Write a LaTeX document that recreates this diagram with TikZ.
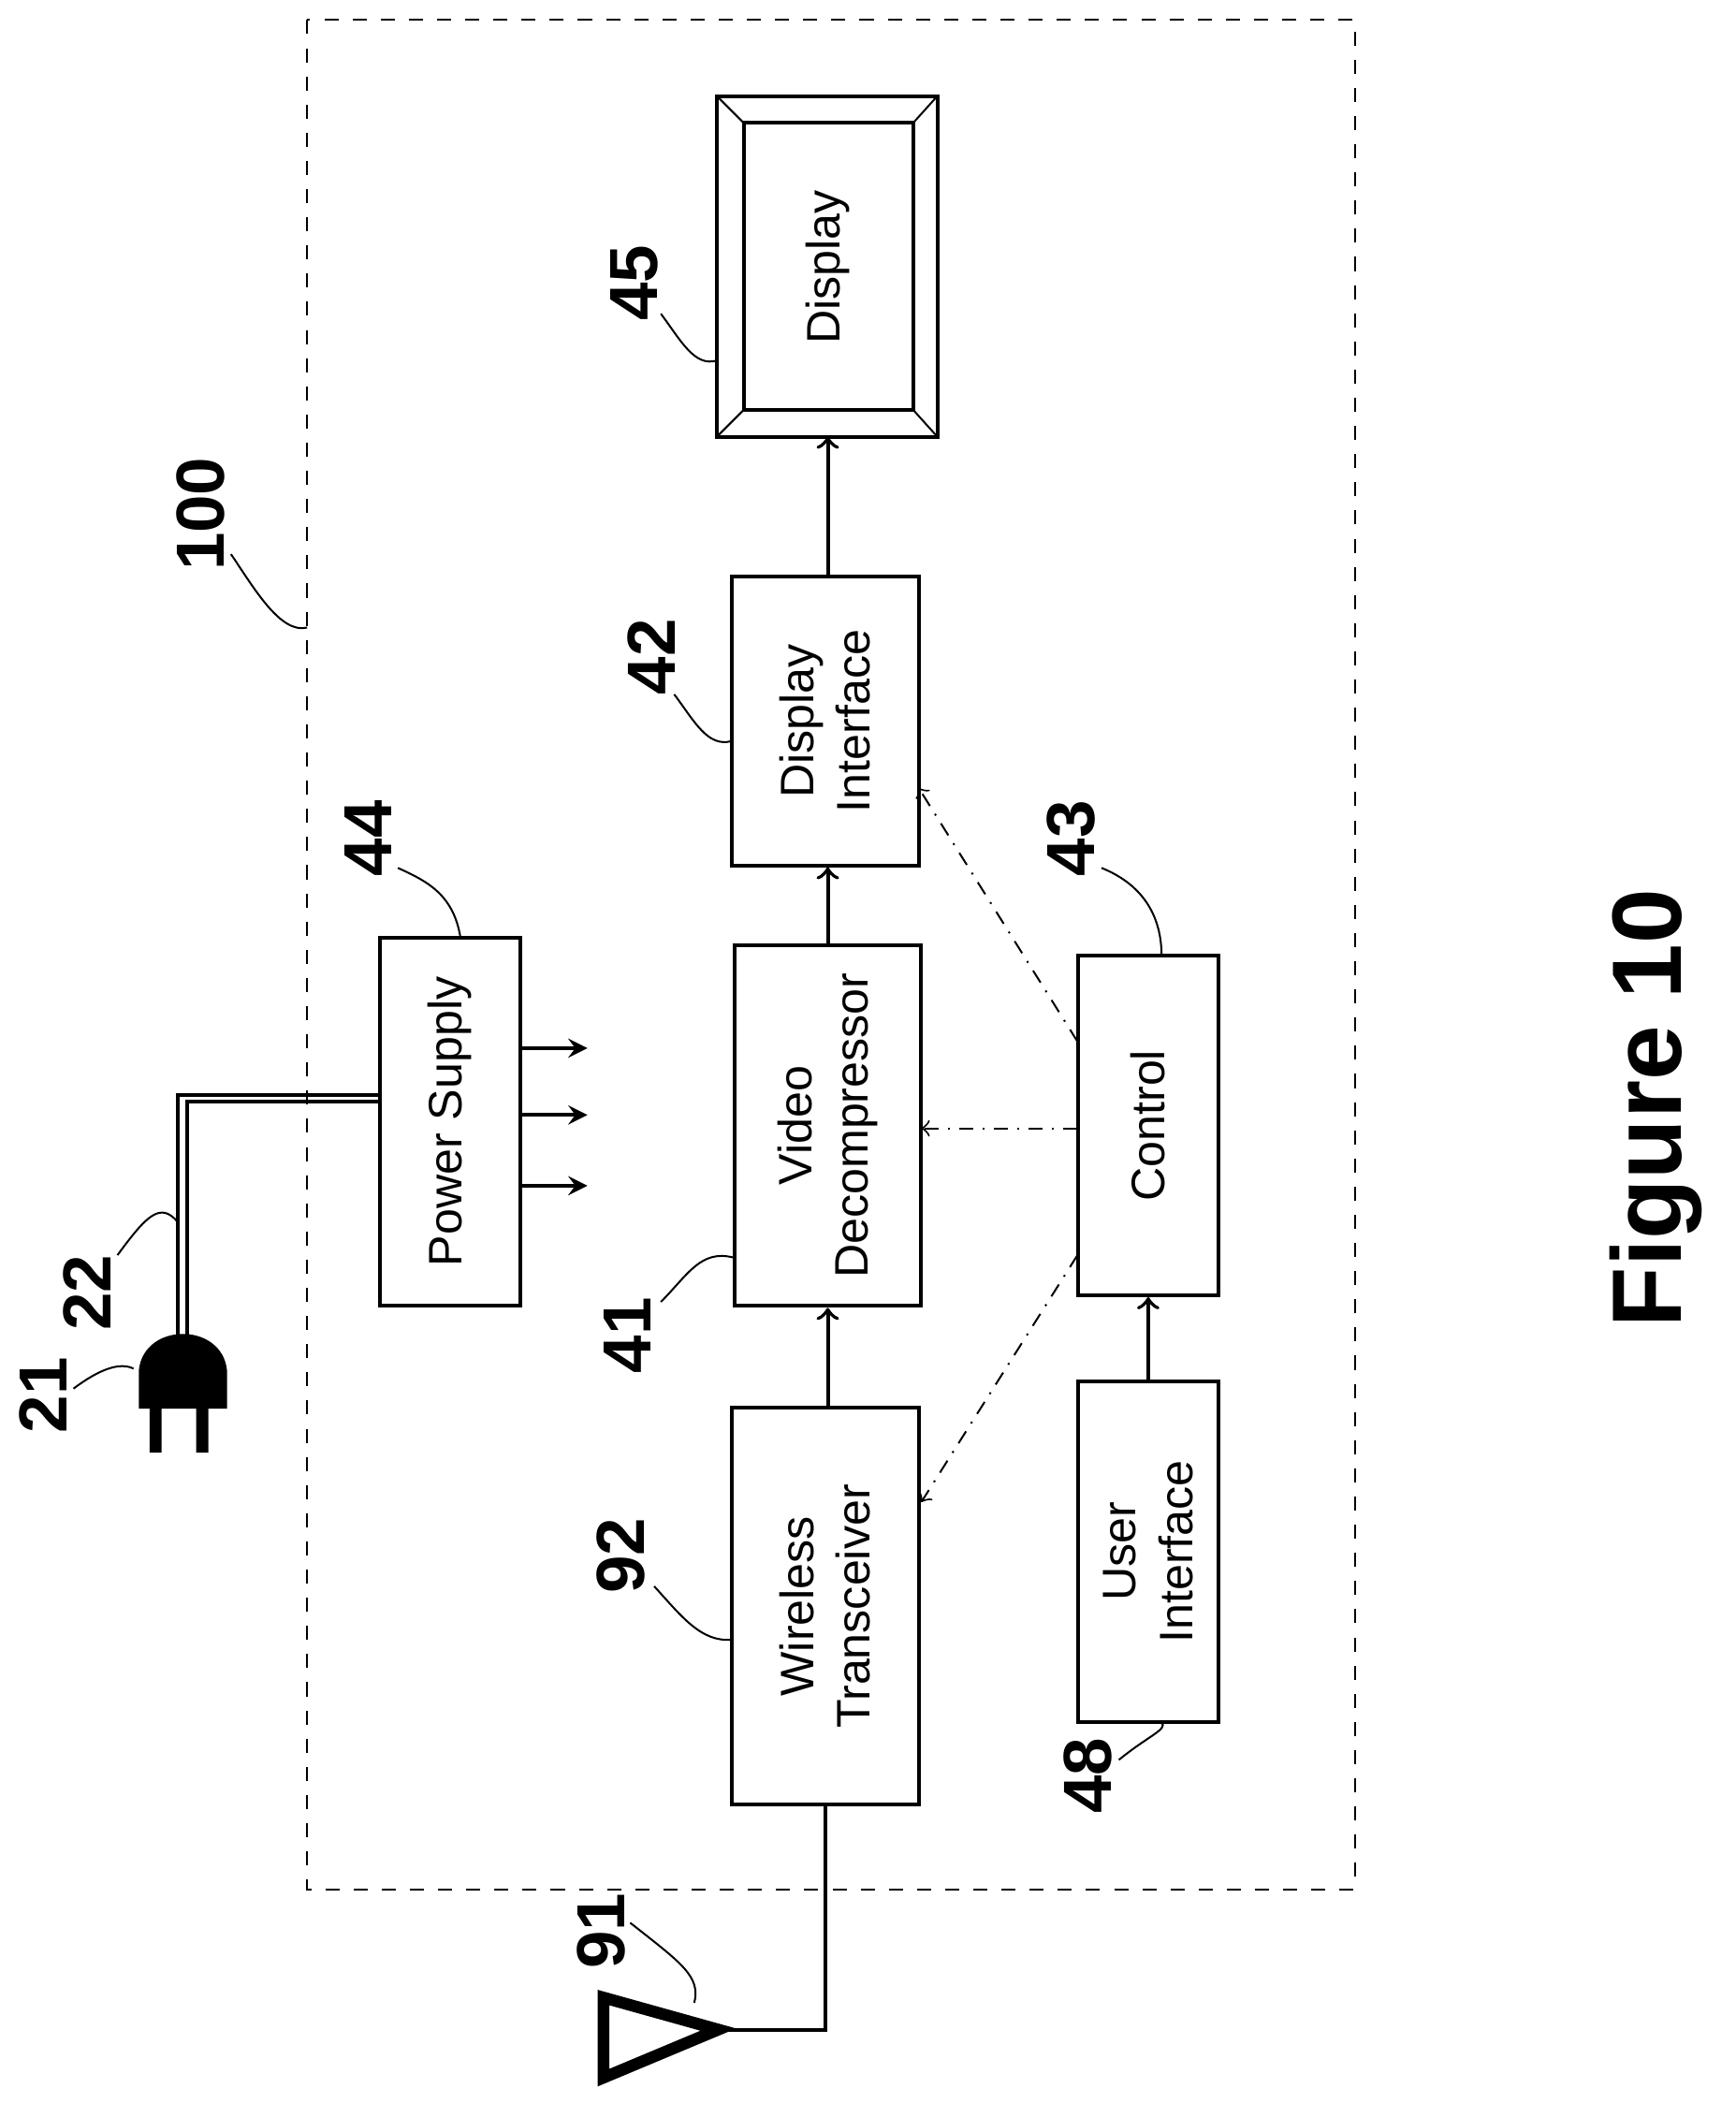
\documentclass[tikz,border=0pt]{standalone}
\usepackage{fontspec}
\setmainfont{Liberation Sans}
\usetikzlibrary{positioning}
\tikzset{
  blk/.style={draw,thick,align=center,rotate=90,font=\fontsize{10}{12}\selectfont},
  ref/.style={rotate=90,font=\fontsize{14.5}{17}\selectfont\bfseries},
  lead/.style={thin},
  ctl/.style={->,dash dot,thin},
  sig/.style={->,thick}
}
\begin{document}
\begin{tikzpicture}[x=0.01cm,y=-0.01cm]
  \useasboundingbox (0,0) rectangle (1300,1575);
  % housing
  \draw[dashed] (230,15) rectangle (1015,1415);
  % display
  \draw[thick] (537,72) rectangle (702,327);
  \draw[thick] (557,92) rectangle (684,307);
  \draw (537,72) -- (557,92) (702,72) -- (684,92)
        (537,327) -- (557,307) (702,327) -- (684,307);
  \node[rotate=90,font=\fontsize{10}{12}\selectfont] (disp) at (620,200) {Display};
  % blocks
  \node[blk,minimum width=2.16cm,minimum height=1.40cm] (dif) at (618,540) {Display\\Interface};
  \node[blk,minimum width=2.70cm,minimum height=1.40cm] (vd) at (620,843) {Video\\Decompressor};
  \node[blk,minimum width=2.97cm,minimum height=1.40cm] (wt) at (618,1203) {Wireless\\Transceiver};
  \node[blk,minimum width=2.75cm,minimum height=1.05cm] (ps) at (337,840) {Power Supply};
  \node[blk,minimum width=2.54cm,minimum height=1.05cm] (ctl) at (860,843) {Control};
  \node[blk,minimum width=2.55cm,minimum height=1.05cm] (ui) at (860,1162) {User\\Interface};
  % signal path
  \draw[sig] (wt.east -| 620,0) -- (vd.west -| 620,0);
  \draw[sig] (vd.east -| 620,0) -- (dif.west -| 620,0);
  \draw[sig] (dif.east -| 620,0) -- (620,327);
  \draw[sig] (ui.east) -- (ctl.west);
  % control lines
  \draw[ctl] (807,780) -- (688,590);
  \draw[ctl] (807,845) -- (690,845);
  \draw[ctl] (807,940) -- (690,1125);
  % power outputs
  \foreach \y in {785,835,888}
    \draw[->,thick,>=stealth] (390,\y) -- (440,\y);
  % cord and plug
  \draw[thick] (285,820) -- (133,820) -- (133,1000);
  \draw[thick] (285,825) -- (140,825) -- (140,1000);
  \fill (104,1026) .. controls (108,990) and (166,990) .. (170,1026) -- (170,1055) -- (104,1055) -- cycle;
  \fill (112,1055) rectangle (121,1088) (147,1055) rectangle (156,1088);
  % antenna
  \draw[thick] (wt.west -| 618,0) -- (618,1520) -- (538,1520);
  \draw[line width=2.5pt,line join=miter] (452,1496) -- (538,1520) -- (452,1556) -- cycle;
  % reference numerals
  \node[ref] (n100) at (150,385) {100};
  \node[ref] (n45) at (475,212) {45};
  \node[ref] (n42) at (488,492) {42};
  \node[ref] (n44) at (276,628) {44};
  \node[ref] (n43) at (802,628) {43};
  \node[ref] (n41) at (470,1000) {41};
  \node[ref] (n92) at (465,1165) {92};
  \node[ref] (n48) at (815,1330) {48};
  \node[ref] (n21) at (32,1045) {21};
  \node[ref] (n22) at (65,968) {22};
  \node[ref] (n91) at (450,1446) {91};
  \draw[lead] (173,415) .. controls (190,440) and (210,475) .. (230,470);
  \draw[lead] (495,235) .. controls (510,255) and (520,275) .. (537,270);
  \draw[lead] (505,520) .. controls (520,540) and (530,560) .. (548,555);
  \draw[lead] (298,650) .. controls (320,660) and (340,670) .. (345,703);
  \draw[lead] (825,650) .. controls (850,660) and (870,680) .. (870,716);
  \draw[lead] (495,975) .. controls (515,955) and (525,935) .. (550,942);
  \draw[lead] (490,1188) .. controls (510,1210) and (525,1230) .. (548,1228);
  \draw[lead] (838,1318) .. controls (860,1300) and (875,1295) .. (870,1290);
  \draw[lead] (55,1040) .. controls (75,1025) and (90,1020) .. (100,1025);
  \draw[lead] (88,940) .. controls (110,910) and (120,900) .. (133,915);
  \draw[lead] (472,1440) .. controls (510,1470) and (525,1480) .. (520,1500);
  % caption
  \node[rotate=90,font=\fontsize{21}{24}\selectfont\bfseries] (fig) at (1240,830) {Figure 10};
\end{tikzpicture}
\end{document}
